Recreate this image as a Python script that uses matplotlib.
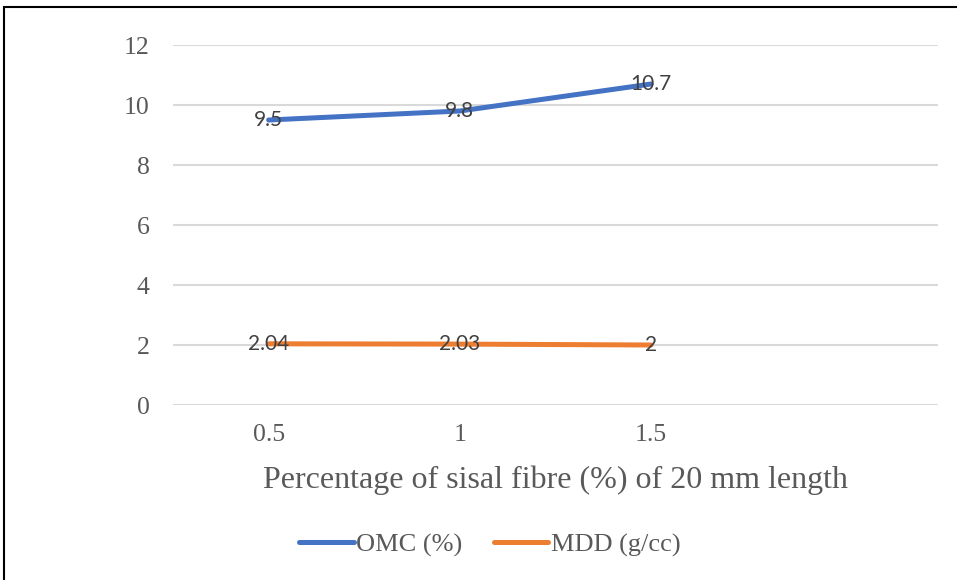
import matplotlib
matplotlib.use("Agg")
import matplotlib.pyplot as plt
from matplotlib.patches import Rectangle
from matplotlib.lines import Line2D

categories = ["0.5", "1", "1.5", ""]
omc = [9.5, 9.8, 10.7]
mdd = [2.04, 2.03, 2.0]
omc_labels = ["9.5", "9.8", "10.7"]
mdd_labels = ["2.04", "2.03", "2"]

W, H = 957, 580
fig = plt.figure(figsize=(W / 100, H / 100), dpi=100)
ax = fig.add_axes([173 / W, 1 - 405 / H, (938 - 173) / W, (405 - 45) / H])

serif = "Liberation Serif"
sans = "Lato"
grey = "#595959"

x = list(range(len(omc)))
ax.plot(x, omc, color="#4472C4", lw=3.6, solid_capstyle="round", zorder=3)
ax.plot(x, mdd, color="#ED7D31", lw=3.6, solid_capstyle="round", zorder=3)
for xi, v, t in zip(x, omc, omc_labels):
    ax.text(xi, v, t, ha="center", va="center", fontsize=15, family=sans, color="#404040", zorder=4)
for xi, v, t in zip(x, mdd, mdd_labels):
    ax.text(xi, v, t, ha="center", va="center", fontsize=15, family=sans, color="#404040", zorder=4)

ax.set_xlim(-0.5, len(categories) - 0.5)
ax.set_ylim(0, 12)
ax.set_yticks(range(0, 13, 2))
ax.set_xticks(range(len(categories)))
ax.set_xticklabels(categories)
for s in ax.spines.values():
    s.set_visible(False)
ax.grid(axis="y", color="#d9d9d9", lw=1.5)
ax.set_axisbelow(True)
ax.tick_params(length=0, labelsize=18.5, labelcolor=grey)
ax.tick_params(axis="y", pad=17)
ax.tick_params(axis="x", pad=14)
for lab in ax.get_xticklabels() + ax.get_yticklabels():
    lab.set_family(serif)

ax.set_xlabel("Percentage of sisal fibre (%) of 20 mm length", fontsize=23,
              family=serif, color=grey, labelpad=14)

handles = [Line2D([], [], color="#4472C4", lw=3.6, solid_capstyle="round"),
           Line2D([], [], color="#ED7D31", lw=3.6, solid_capstyle="round")]
leg = fig.legend(handles, ["OMC (%)", "MDD (g/cc)"], loc="center",
                 bbox_to_anchor=(490 / W, 1 - 545 / H), ncol=2, frameon=False,
                 prop={"family": serif, "size": 19}, handlelength=2.05,
                 handletextpad=0.1, columnspacing=1.2)
for t in leg.get_texts():
    t.set_color(grey)

fig.patches.append(Rectangle((4 / W, -0.1), 1.2, 1 - 7 / H + 0.1, transform=fig.transFigure,
                             fill=False, edgecolor="black", lw=1.5))

fig.savefig("out.png", dpi=100)
